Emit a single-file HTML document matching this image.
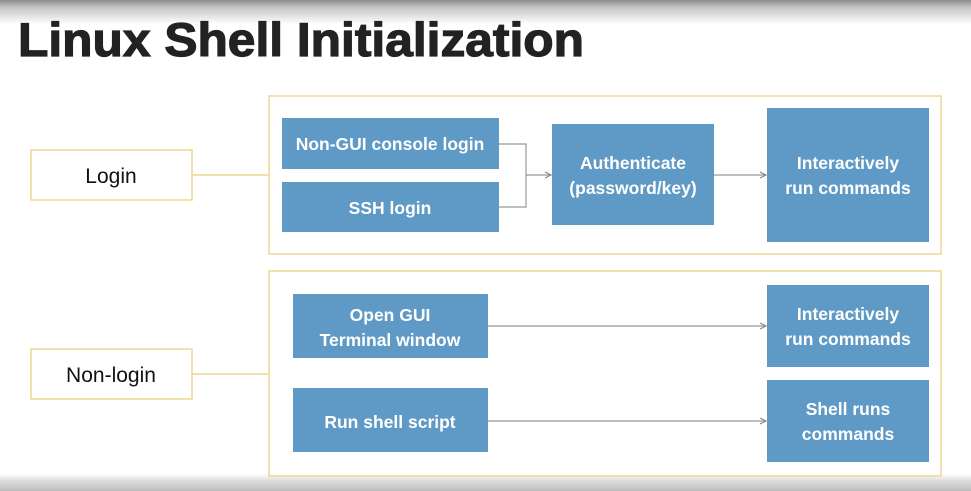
<!DOCTYPE html>
<html><head><meta charset="utf-8"><style>
html,body{margin:0;padding:0;background:#fff;}
svg{display:block;font-family:"Liberation Sans",sans-serif;}
</style></head><body>
<svg width="971" height="491" viewBox="0 0 971 491" xmlns="http://www.w3.org/2000/svg">
<defs>
<linearGradient id="tg" x1="0" y1="0" x2="0" y2="1"><stop offset="0" stop-color="#8a8a8a"/><stop offset="0.3" stop-color="#c4c4c4"/><stop offset="1" stop-color="#fff"/></linearGradient>
<linearGradient id="bg" x1="0" y1="0" x2="0" y2="1"><stop offset="0" stop-color="#fff"/><stop offset="0.4" stop-color="#dcdcdc"/><stop offset="1" stop-color="#bdbdbd"/></linearGradient>
<marker id="ar" markerWidth="8" markerHeight="8" refX="7" refY="4" orient="auto" markerUnits="userSpaceOnUse"><path d="M1,1 L7,4 L1,7" fill="none" stroke="#888" stroke-width="1.2"/></marker>
</defs>
<rect x="0" y="0" width="971" height="24" fill="url(#tg)"/>
<rect x="0" y="474" width="971" height="17" fill="url(#bg)"/>
<text x="18" y="56" font-size="47" font-weight="bold" fill="#222" stroke="#222" stroke-width="1.2" textLength="566" lengthAdjust="spacingAndGlyphs">Linux Shell Initialization</text>

<g fill="none" stroke="#f0d690" stroke-width="1.5">
<rect x="269" y="96" width="672" height="158"/>
<rect x="269" y="271" width="672" height="205"/>
<rect x="31" y="150" width="161" height="50"/>
<rect x="31" y="349" width="161" height="50"/>
<line x1="192" y1="175" x2="269" y2="175"/>
<line x1="192" y1="374" x2="269" y2="374"/>
</g>
<g fill="#5f9ac6">
<rect x="282" y="118" width="217" height="51"/>
<rect x="282" y="182" width="217" height="50"/>
<rect x="552" y="124" width="162" height="101"/>
<rect x="767" y="108" width="162" height="134"/>
<rect x="293" y="294" width="195" height="64"/>
<rect x="293" y="388" width="195" height="64"/>
<rect x="767" y="285" width="162" height="82"/>
<rect x="767" y="380" width="162" height="82"/>
</g>
<g fill="none" stroke="#999" stroke-width="1.2">
<polyline points="499,144 526,144 526,207 499,207"/>
<line x1="526" y1="175" x2="551" y2="175" marker-end="url(#ar)"/>
<line x1="714" y1="175" x2="766" y2="175" marker-end="url(#ar)"/>
<line x1="488" y1="326" x2="766" y2="326" marker-end="url(#ar)"/>
<line x1="488" y1="421" x2="766" y2="421" marker-end="url(#ar)"/>
</g>
<g font-size="21" fill="#111" text-anchor="middle">
<text x="111" y="183">Login</text>
<text x="111" y="382">Non-login</text>
</g>
<g font-size="17.5" font-weight="bold" fill="#fff" text-anchor="middle">
<text x="390" y="150">Non-GUI console login</text>
<text x="390" y="214">SSH login</text>
<text x="633" y="169">Authenticate</text>
<text x="633" y="194">(password/key)</text>
<text x="848" y="169">Interactively</text>
<text x="848" y="194">run commands</text>
<text x="390" y="321">Open GUI</text>
<text x="390" y="346">Terminal window</text>
<text x="390" y="428">Run shell script</text>
<text x="848" y="320">Interactively</text>
<text x="848" y="345">run commands</text>
<text x="848" y="415">Shell runs</text>
<text x="848" y="440">commands</text>
</g>
</svg>
</body></html>
